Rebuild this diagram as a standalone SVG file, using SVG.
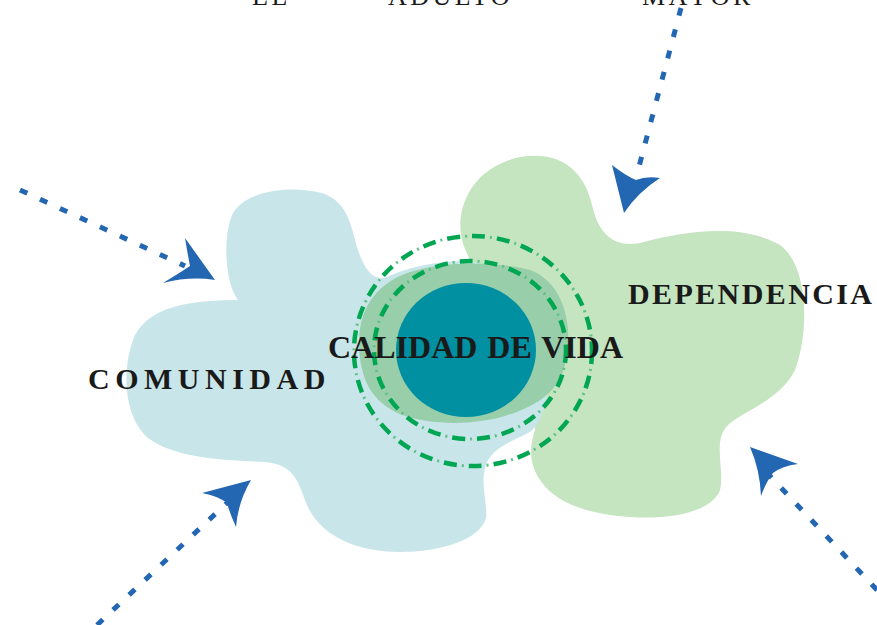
<svg xmlns="http://www.w3.org/2000/svg" width="877" height="625" viewBox="0 0 877 625">
<style>
.lbl{font-family:"Liberation Serif","Times New Roman",serif;fill:#1a1a1a}
.b{font-weight:bold}
.dl{fill:none;stroke:#2366b1;stroke-width:5;stroke-dasharray:8 14}
.ah{fill:#2366b1}
.ring{fill:none;stroke:#00a651;stroke-width:4.5;stroke-dasharray:13 12}
.dots{fill:none;stroke:#5fc184;stroke-width:3;stroke-dasharray:2 23;stroke-dashoffset:-18}
</style>
<rect width="877" height="625" fill="#ffffff"/>
<g id="top-text">
<text class="lbl" x="252" y="5" font-size="26" letter-spacing="3.5">EL</text>
<text class="lbl" x="388" y="5" font-size="26" letter-spacing="3.5">ADULTO</text>
<text class="lbl" x="642" y="5" font-size="26" letter-spacing="3.5">MAYOR</text>
</g>
<g id="dependencia">
<path fill="#c4e5bf" d="M462,240 C455,210 470,168 520,157 C565,150 585,175 592,205 C598,232 612,248 640,243 C680,232 740,222 780,245 C808,265 810,330 795,370 C780,400 745,410 728,425 C712,440 725,470 720,490 C712,512 670,520 630,517 C585,514 555,502 540,480 C528,462 530,445 535,430 L520,300 C480,290 420,275 380,285 C410,268 450,265 470,260 C468,255 464,248 462,240 Z"/>
<text class="lbl b" x="628" y="304" font-size="30" letter-spacing="2.4">DEPENDENCIA</text>
</g>
<g id="comunidad">
<path fill="#c8e6ea" d="M238,300 C226,285 222,240 232,215 C245,190 290,185 322,193 C350,202 352,232 358,250 C364,268 372,280 385,278 C400,270 440,258 475,262 C510,270 540,290 548,340 C552,390 545,420 530,432 C515,440 498,445 488,460 C478,480 488,500 486,518 C480,540 440,552 400,552 C355,552 320,535 307,505 C298,482 295,465 265,462 C220,460 175,458 148,438 C122,415 122,365 135,335 C150,308 185,300 238,300 Z"/>
<text class="lbl b" x="88" y="389" font-size="30" letter-spacing="5.5">COMUNIDAD</text>
</g>
<g id="calidad-de-vida">
<path fill="#98ceaa" d="M359,345 C358,305 380,282 410,272 C440,262 490,260 530,270 C562,282 572,320 567,355 C562,390 540,405 505,416 C475,425 430,426 400,414 C372,402 360,380 359,345 Z"/>
<ellipse cx="466" cy="350" rx="70" ry="67" fill="#0090a1"/>
<ellipse class="ring" cx="470" cy="350" rx="96" ry="89"/>
<ellipse class="dots" cx="470" cy="350" rx="96" ry="89"/>
<ellipse class="ring" cx="473" cy="351" rx="119" ry="115"/>
<ellipse class="dots" cx="473" cy="351" rx="119" ry="115"/>
<text class="lbl b" x="328" y="358" font-size="32" word-spacing="2">CALIDAD DE VIDA</text>
</g>
<g id="connectors">
<line class="dl" x1="20" y1="190" x2="185" y2="266"/>
<path class="ah" d="M215,280 L185,238 Q188,256 190,266 Q178,274 163,283 Q190,276 215,280 Z"/>
<line class="dl" x1="681" y1="8" x2="636" y2="178"/>
<path class="ah" d="M624,213 L612,165 Q626,176 636,180 Q646,176 660,178 Q638,192 624,213 Z"/>
<line class="dl" x1="97" y1="625" x2="228" y2="502"/>
<path class="ah" d="M251,480 L202,493 Q218,496 227,503 Q230,514 236,527 Q238,502 251,480 Z"/>
<line class="dl" x1="877" y1="590" x2="770" y2="476"/>
<path class="ah" d="M750,447 L798,464 Q782,466 773,473 Q766,482 761,496 Q760,470 750,447 Z"/>
</g>
</svg>
